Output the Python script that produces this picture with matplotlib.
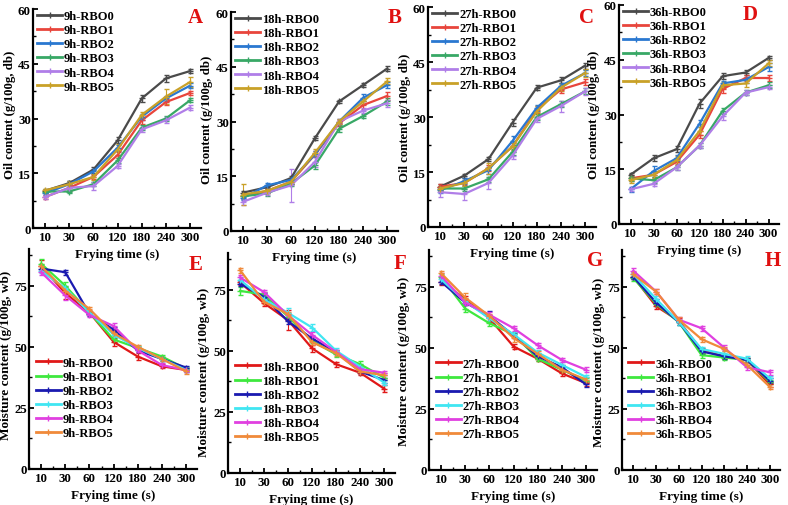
import matplotlib
matplotlib.use("Agg")
import matplotlib.pyplot as plt
from matplotlib.lines import Line2D
from matplotlib.ticker import MultipleLocator

plt.rcParams["font.family"] = ["Liberation Serif", "DejaVu Serif"]
plt.rcParams["font.weight"] = "bold"

W, H = 788, 506

times = ["10", "30", "60", "120", "180", "240", "300"]
series = ["RBO0", "RBO1", "RBO2", "RBO3", "RBO4", "RBO5"]
hours = ["9h", "18h", "27h", "36h"]

# oil content (g/100g, db), one list per RBO series
oil_9h = [
    [10.2, 12.3, 16.0, 24.0, 35.5, 41.0, 43.0],
    [8.5, 11.0, 14.0, 20.0, 29.5, 34.5, 37.0],
    [9.5, 12.0, 15.5, 22.0, 30.5, 35.5, 39.0],
    [10.0, 10.0, 12.0, 18.5, 27.5, 30.0, 35.0],
    [8.5, 11.0, 11.5, 17.0, 27.0, 29.5, 33.0],
    [10.3, 12.0, 14.0, 21.5, 31.0, 36.0, 40.0],
]
oil_18h = [
    [10.5, 12.0, 14.5, 25.5, 35.5, 40.0, 44.5],
    [9.5, 11.0, 13.5, 21.0, 29.5, 34.5, 37.0],
    [9.0, 12.5, 14.0, 21.0, 30.0, 36.5, 40.0],
    [9.5, 10.3, 13.0, 18.0, 28.0, 31.5, 35.5],
    [8.0, 10.5, 12.5, 19.0, 30.0, 33.0, 35.0],
    [10.0, 11.0, 13.5, 21.5, 30.0, 35.5, 41.0],
]
oil_27h = [
    [11.0, 14.0, 18.5, 28.5, 38.0, 40.0, 44.0],
    [11.0, 12.0, 16.0, 22.0, 32.0, 37.5, 39.5],
    [10.0, 12.5, 15.5, 23.5, 32.5, 38.5, 42.0],
    [10.5, 10.5, 13.0, 20.5, 30.0, 33.5, 37.0],
    [9.5, 9.0, 12.0, 19.5, 29.5, 33.0, 37.0],
    [10.5, 12.0, 16.0, 22.0, 31.5, 38.0, 42.0],
]
oil_36h = [
    [13.5, 18.0, 20.5, 33.0, 40.5, 41.5, 45.5],
    [12.5, 13.5, 17.0, 24.5, 37.0, 40.0, 40.0],
    [9.5, 14.5, 18.0, 27.5, 38.5, 39.5, 43.0],
    [12.5, 12.0, 15.5, 21.5, 31.0, 36.0, 38.0],
    [9.5, 11.0, 15.5, 21.5, 29.5, 36.0, 37.5],
    [12.0, 13.5, 17.5, 25.5, 38.0, 38.5, 44.0],
]
oil_err_9h = [
    [0.5, 0.5, 0.8, 0.8, 1.0, 1.0, 0.5],
    [0.5, 0.8, 0.6, 0.8, 1.0, 0.8, 0.6],
    [0.5, 0.8, 0.8, 0.8, 0.8, 0.8, 0.6],
    [0.5, 0.5, 0.5, 0.6, 0.6, 0.6, 0.6],
    [0.6, 0.5, 1.0, 0.6, 0.8, 0.8, 0.6],
    [0.5, 0.8, 0.8, 1.5, 0.8, 2.0, 1.5],
]
oil_err_18h = [
    [0.5, 0.5, 0.5, 0.5, 0.5, 0.6, 0.8],
    [0.8, 0.6, 0.6, 0.8, 0.8, 1.0, 1.0],
    [0.6, 0.6, 0.6, 0.8, 0.8, 1.0, 0.8],
    [0.6, 0.6, 0.6, 1.0, 1.0, 0.6, 1.0],
    [0.8, 0.6, 4.5, 1.5, 0.8, 0.8, 1.0],
    [3.0, 0.6, 0.6, 1.0, 0.8, 0.8, 0.8],
]
oil_err_27h = [
    [0.6, 0.5, 0.6, 1.0, 0.6, 0.8, 0.8],
    [0.8, 0.6, 0.8, 1.0, 1.0, 1.0, 0.8],
    [0.6, 0.8, 1.0, 1.2, 0.8, 0.8, 0.8],
    [0.8, 0.6, 0.6, 0.8, 0.8, 0.8, 0.8],
    [1.2, 1.5, 1.5, 1.0, 0.8, 1.5, 1.0],
    [0.6, 0.8, 1.5, 1.0, 1.5, 1.0, 1.2],
]
oil_err_36h = [
    [0.5, 0.8, 0.8, 1.2, 0.8, 0.6, 0.5],
    [0.8, 0.8, 0.8, 1.0, 1.2, 0.8, 0.8],
    [0.6, 1.5, 0.8, 1.0, 0.8, 0.8, 1.2],
    [0.6, 0.8, 0.6, 0.6, 0.8, 0.6, 0.8],
    [0.5, 0.5, 0.6, 0.6, 1.0, 0.6, 0.6],
    [0.8, 0.8, 1.0, 1.0, 0.8, 1.0, 0.8],
]

# moisture content (g/100g, wb)
moist_9h = [
    [83.0, 72.0, 64.0, 52.0, 46.0, 42.0, 40.5],
    [84.0, 75.0, 64.0, 53.0, 49.5, 46.0, 41.0],
    [82.0, 80.5, 63.5, 57.0, 48.5, 45.0, 41.5],
    [81.0, 74.0, 64.0, 55.0, 49.5, 45.0, 40.5],
    [80.5, 71.0, 63.0, 58.5, 48.5, 42.5, 40.5],
    [83.0, 73.0, 65.5, 55.5, 50.0, 45.0, 40.0],
]
moist_18h = [
    [78.0, 69.5, 62.5, 51.0, 44.5, 41.0, 34.5],
    [74.5, 73.0, 64.0, 54.0, 48.5, 44.5, 39.0],
    [77.5, 72.0, 62.0, 55.0, 49.5, 41.5, 38.0],
    [79.0, 71.0, 65.5, 59.5, 50.0, 43.5, 37.0],
    [80.0, 74.0, 64.5, 56.5, 49.5, 42.5, 41.0],
    [83.0, 70.0, 65.0, 53.5, 49.0, 41.5, 40.0],
]
moist_27h = [
    [77.0, 70.0, 62.0, 50.5, 45.5, 39.5, 35.5],
    [79.0, 66.0, 60.0, 55.5, 45.5, 41.0, 36.5],
    [77.0, 68.5, 63.0, 55.0, 46.5, 42.0, 35.0],
    [78.0, 69.0, 62.0, 55.5, 48.0, 43.0, 38.0],
    [79.5, 68.5, 63.5, 58.0, 51.0, 45.0, 41.0],
    [80.5, 70.5, 63.0, 54.0, 47.5, 41.0, 37.0],
]
moist_36h = [
    [79.0, 67.0, 61.0, 49.0, 46.5, 45.0, 35.0],
    [78.5, 68.0, 60.5, 47.0, 46.0, 45.0, 36.0],
    [79.0, 68.5, 60.5, 48.5, 46.5, 45.0, 36.5],
    [80.0, 70.0, 60.5, 49.5, 47.5, 45.5, 37.5],
    [81.5, 73.0, 61.5, 58.0, 50.0, 42.0, 40.0],
    [80.0, 73.0, 61.5, 53.5, 49.5, 43.0, 34.0],
]
moist_err_9h = [
    [2.5, 2.5, 0.8, 1.5, 1.5, 0.8, 0.8],
    [2.0, 1.5, 0.8, 1.0, 0.8, 0.8, 0.8],
    [1.0, 1.0, 0.8, 1.0, 0.8, 0.8, 0.8],
    [1.0, 1.0, 0.8, 1.0, 0.8, 0.8, 0.8],
    [1.0, 2.0, 0.8, 1.2, 0.8, 0.8, 0.8],
    [1.0, 1.0, 0.8, 1.0, 0.8, 0.8, 1.0],
]
moist_err_18h = [
    [1.0, 1.0, 4.0, 1.5, 1.0, 0.8, 1.5],
    [1.5, 1.0, 1.0, 1.0, 1.0, 1.5, 1.0],
    [1.0, 1.5, 1.0, 1.0, 1.0, 1.0, 1.0],
    [1.0, 1.0, 2.0, 1.5, 1.0, 1.0, 1.0],
    [1.0, 1.0, 1.0, 1.0, 1.0, 1.0, 0.8],
    [1.0, 1.0, 1.0, 1.0, 1.0, 1.0, 1.0],
]
moist_err_27h = [
    [1.5, 1.0, 1.5, 1.0, 1.0, 1.0, 1.0],
    [1.0, 1.5, 1.0, 1.0, 1.0, 1.0, 1.0],
    [1.0, 1.0, 2.0, 1.0, 1.0, 1.0, 1.0],
    [1.0, 1.0, 1.0, 1.0, 1.0, 1.0, 1.0],
    [1.0, 1.0, 1.0, 1.0, 1.0, 1.0, 1.0],
    [1.0, 2.0, 1.0, 1.5, 1.0, 1.0, 1.0],
]
moist_err_36h = [
    [1.0, 1.0, 1.0, 1.0, 1.0, 1.0, 1.0],
    [1.0, 1.0, 1.0, 1.0, 1.0, 1.0, 1.0],
    [1.0, 1.5, 1.0, 1.0, 1.0, 1.0, 1.0],
    [1.0, 1.0, 1.0, 1.0, 1.0, 1.0, 1.0],
    [1.0, 1.0, 1.0, 1.0, 1.0, 1.0, 1.0],
    [1.0, 1.0, 1.0, 1.0, 1.0, 1.0, 1.0],
]

oil_colors = ["#4a4a4a", "#e8453c", "#2a78d0", "#38a866", "#b07ee8", "#c9a128"]
moist_colors = ["#e01818", "#3ee83e", "#1a1ab0", "#40e6f2", "#e040e0", "#f08a3a"]

# panel boxes in pixels: (left, top, right, bottom)
oil_boxes = [(33, 10, 201, 229), (231, 13, 398, 232),
             (428, 8, 596, 228), (619, 6, 779, 225)]
moist_boxes = [(29, 250, 197, 470), (228, 254, 395, 474),
               (429, 251, 597, 471), (622, 251, 780, 471)]
oil_letters = [("A", 195, 18), ("B", 395, 18), ("C", 586, 18), ("D", 750, 15)]
moist_letters = [("E", 196, 265), ("F", 400, 264), ("G", 595, 261), ("H", 773, 261)]
oil_ylab = [(10, 115), (207, 120), (405, 118), (594, 115)]
moist_ylab = [(6, 355), (204, 372), (404, 361), (599, 362)]


def add_panel(fig, box, data, errs, colors, hour, ymax, ystep, legend_anchor):
    l, t, r, b = box
    ax = fig.add_axes([l / W, 1 - b / H, (r - l) / W, (b - t) / H])
    ax.patch.set_visible(False)
    x = list(range(len(times)))
    handles = []
    for vals, err, c, s in zip(data, errs, colors, series):
        ax.errorbar(x, vals, yerr=err, color=c, lw=1.6, marker="+", ms=4,
                    mew=1.0, elinewidth=0.8, capsize=1.8, capthick=0.8)
        handles.append(Line2D([], [], color=c, lw=2.0, marker="+", ms=4,
                              mew=1.0, label=f"{hour}-{s}"))
    ax.set_xlim(-0.5, 6.45)
    ax.set_ylim(0, ymax)
    ax.set_xticks(x)
    ax.set_xticklabels(times)
    ax.xaxis.set_minor_locator(MultipleLocator(0.5))
    ax.yaxis.set_major_locator(MultipleLocator(ystep))
    ax.yaxis.set_minor_locator(MultipleLocator(ystep / 2))
    for side in ["top", "right"]:
        ax.spines[side].set_visible(False)
    for side in ["left", "bottom"]:
        ax.spines[side].set_linewidth(1.6)
    ax.tick_params(axis="both", which="major", direction="in", length=3.5,
                   width=1.3, labelsize=9.3, pad=2.5)
    ax.tick_params(axis="y", which="major", pad=1.5)
    ax.tick_params(axis="both", which="minor", direction="in", length=2,
                   width=1.0)
    for lab in ax.get_xticklabels() + ax.get_yticklabels():
        lab.set_fontweight("bold")
    ax.set_xlabel("Frying time (s)", fontsize=9.5, fontweight="bold", labelpad=3)
    ax.legend(handles=handles, loc="upper left", bbox_to_anchor=legend_anchor,
              frameon=False, numpoints=1, handlelength=2.0, handletextpad=0.15,
              labelspacing=0.17, borderaxespad=0.0, borderpad=0.0,
              prop={"weight": "bold", "size": 9})
    return ax


fig = plt.figure(figsize=(W / 100, H / 100), dpi=100)

oil_sets = [oil_9h, oil_18h, oil_27h, oil_36h]
oil_err_sets = [oil_err_9h, oil_err_18h, oil_err_27h, oil_err_36h]
moist_sets = [moist_9h, moist_18h, moist_27h, moist_36h]
moist_err_sets = [moist_err_9h, moist_err_18h, moist_err_27h, moist_err_36h]

for i, hour in enumerate(hours):
    add_panel(fig, oil_boxes[i], oil_sets[i], oil_err_sets[i], oil_colors,
              hour, 60, 15, (0.025, 0.995))
    lx, ly = oil_ylab[i]
    fig.text(lx / W, 1 - ly / H, "Oil content (g/100g, db)", rotation=90,
             ha="center", va="center", fontsize=9.2, fontweight="bold")
    letter, lx, ly = oil_letters[i]
    fig.text(lx / W, 1 - ly / H, letter, color="#e01010", fontsize=15,
             fontweight="bold", ha="center", va="center")

    add_panel(fig, moist_boxes[i], moist_sets[i], moist_err_sets[i],
              moist_colors, hour, 90, 25, (0.04, 0.51))
    lx, ly = moist_ylab[i]
    fig.text(lx / W, 1 - ly / H, "Moisture content (g/100g, wb)", rotation=90,
             ha="center", va="center", fontsize=9.5, fontweight="bold")
    letter, lx, ly = moist_letters[i]
    fig.text(lx / W, 1 - ly / H, letter, color="#e01010", fontsize=15,
             fontweight="bold", ha="center", va="center")

fig.savefig("out.png", dpi=100, facecolor="white")
